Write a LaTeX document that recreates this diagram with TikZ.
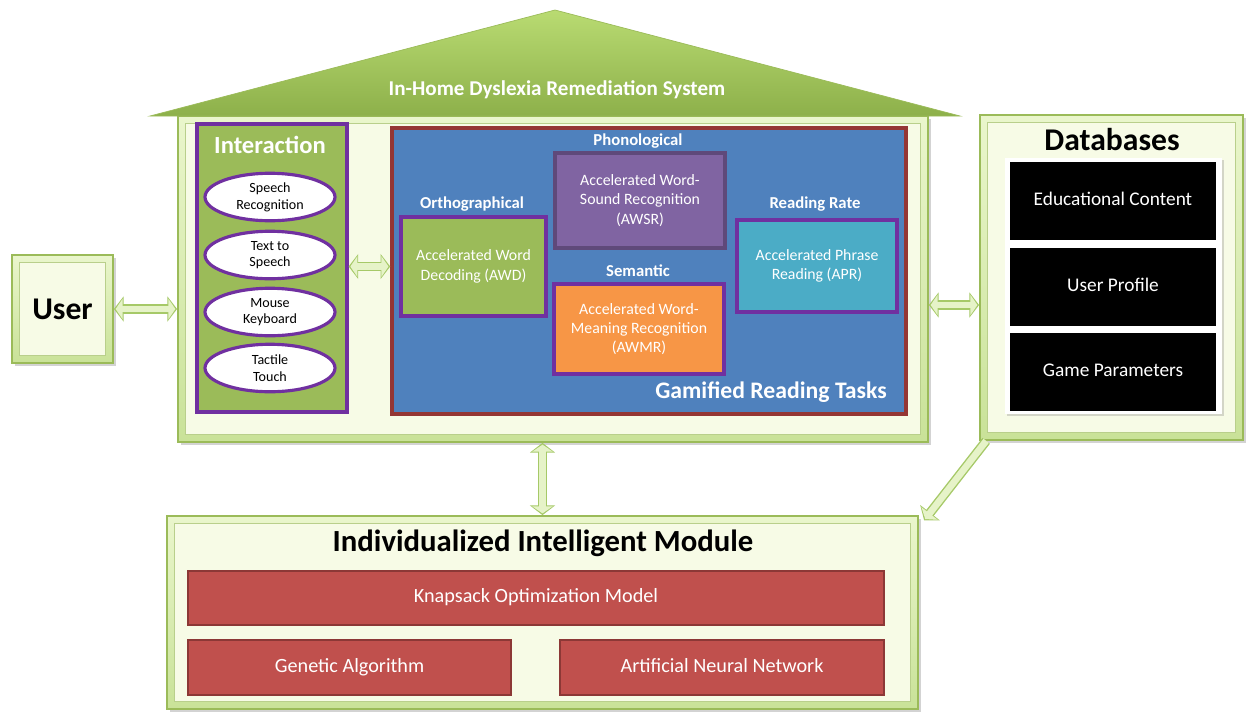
\documentclass[tikz,border=0pt]{standalone}
\usepackage{fontspec}
\setmainfont{Carlito}
\usetikzlibrary{fit,shapes.geometric,arrows.meta,shadows}

\definecolor{leaf}{HTML}{9BBB59}
\definecolor{roofdark}{HTML}{8DB04A}
\definecolor{rooflight}{HTML}{B9DB72}
\definecolor{paleleaf}{HTML}{F7FBE6}
\definecolor{bevelhi}{HTML}{EAF6CC}
\definecolor{bevello}{HTML}{C9E298}
\definecolor{intpurple}{HTML}{7030A0}
\definecolor{taskblue}{HTML}{4F81BD}
\definecolor{brick}{HTML}{943634}
\definecolor{lilac}{HTML}{8064A2}
\definecolor{lilacdark}{HTML}{5F497A}
\definecolor{amber}{HTML}{F79646}
\definecolor{aqua}{HTML}{4BACC6}
\definecolor{redbox}{HTML}{C0504D}
\definecolor{redline}{HTML}{8C3836}
\definecolor{arrowfill}{HTML}{E6F3C8}
\definecolor{arrowedge}{HTML}{A6C968}

\newcommand{\fsz}[2]{\fontsize{#1}{#2}\selectfont}

\tikzset{
  bevel/.style={draw=leaf, line width=1pt, top color=bevelhi, bottom color=bevello, inner sep=0pt,
    drop shadow={opacity=0.35, shadow xshift=1.5pt, shadow yshift=-1.5pt}},
  face/.style={draw=leaf!70, line width=0.5pt, fill=paleleaf, inner sep=-5pt},
  tile/.style={draw=intpurple, line width=1.8pt, inner sep=0pt},
  tiletext/.style={text=white, align=center, font=\fsz{9}{11}},
  oval/.style={ellipse, draw=intpurple, line width=1.8pt, fill=white, minimum width=2.6cm,
    minimum height=0.95cm, inner sep=0pt, align=center, font=\fsz{8}{9.5}},
  subcap/.style={text=white, font=\bfseries\fsz{9.5}{11}},
  dbtile/.style={fill=black, inner sep=0pt},
  dbtext/.style={text=white, font=\fsz{11}{13}, text height=1.6ex, text depth=0.45ex},
  redtile/.style={fill=redbox, draw=redline, line width=1.5pt, inner sep=0pt},
  redtext/.style={text=white, font=\fsz{11.5}{13}, text height=1.6ex, text depth=0.45ex},
  fatboth/.style={draw=arrowfill, line width=3.8pt, shorten <=1pt, shorten >=1pt,
    {Triangle[width=11.5pt,length=4pt]}-{Triangle[width=11.5pt,length=4pt]},
    preaction={draw=arrowedge, line width=5.4pt, shorten <=0pt, shorten >=0pt,
      {Triangle[width=14pt,length=5.5pt]}-{Triangle[width=14pt,length=5.5pt]}}},
  fatend/.style={draw=arrowfill, line width=3.8pt, shorten >=1pt,
    -{Triangle[width=11.5pt,length=4pt]},
    preaction={draw=arrowedge, line width=5.4pt, shorten >=0pt,
      -{Triangle[width=14pt,length=5.5pt]}}},
}

\begin{document}
\begin{tikzpicture}[x=0.02cm, y=-0.02cm]
\useasboundingbox (0,0) rectangle (1249,711);

% house
\node[bevel, fit={(178,116) (928,442)}] (house) {};
\node[face, fit=(house)] {};
\shade[top color=rooflight, bottom color=roofdark, draw=leaf] (150,116) -- (555,10) -- (960,116) -- cycle;
\node[text=white, font=\bfseries\fsz{12}{14}] (roofcap) at (557,90) {In-Home Dyslexia Remediation System};

% interaction
\node[fill=leaf, draw=intpurple, line width=1.8pt, inner sep=0pt, fit={(197,124) (347,412)}] (inter) {};
\node[text=white, font=\bfseries\fsz{14}{16}] at (270,145) {Interaction};
\node[oval] (speech) at (270,197) {Speech\\Recognition};
\node[oval] (tts) at (270,255) {Text to\\Speech};
\node[oval] (mouse) at (270,312) {Mouse\\Keyboard};
\node[oval] (touch) at (270,368) {Tactile\\Touch};

% reading tasks
\node[fill=taskblue, draw=brick, line width=2pt, inner sep=0pt, fit={(392,128) (906,414)}] (tasks) {};
\node[anchor=east, text=white, font=\bfseries\fsz{13.5}{16}] at (893,392) {Gamified Reading Tasks};
\node[subcap] at (472,204) {Orthographical};
\node[subcap] at (638,141) {Phonological};
\node[subcap] at (638,271) {Semantic};
\node[subcap] at (815,204) {Reading Rate};
\node[tile, fill=leaf, fit={(401,217) (546,316)},
  label={[tiletext]center:Accelerated Word\\Decoding (AWD)}] (awd) {};
\node[tile, fill=lilac, draw=lilacdark, fit={(555,153) (725,248)},
  label={[tiletext]center:Accelerated Word-\\Sound Recognition\\(AWSR)}] (awsr) {};
\node[tile, fill=amber, fit={(554,284) (724,374)},
  label={[tiletext]center:Accelerated Word-\\Meaning Recognition\\(AWMR)}] (awmr) {};
\node[tile, fill=aqua, fit={(737,220) (897,312)},
  label={[tiletext]center:Accelerated Phrase\\Reading (APR)}] (apr) {};

% user
\node[bevel, fit={(12,255) (113,363)}] (user) {};
\node[face, fit=(user), label={[font=\bfseries\fsz{18}{20}]center:User}] {};

% databases
\node[bevel, fit={(980,115) (1243,440)}] (db) {};
\node[face, fit=(db)] {};
\node[font=\bfseries\fsz{18}{20}] at (1112,140) {Databases};
\node[fill=white, inner sep=0pt, drop shadow={opacity=0.3, shadow xshift=1pt, shadow yshift=-1pt},
  fit={(1005,158) (1222,414)}] (dbpanel) {};
\node[dbtile, fit={(1010,162) (1216,240)}, label={[dbtext]center:Educational Content}] (educ) {};
\node[dbtile, fit={(1010,248) (1216,326)}, label={[dbtext]center:User Profile}] (profile) {};
\node[dbtile, fit={(1010,333) (1216,411)}, label={[dbtext]center:Game Parameters}] (params) {};

% intelligent module
\node[bevel, fit={(167,516) (918,709)}] (iim) {};
\node[face, fit=(iim)] {};
\node[font=\bfseries\fsz{17.5}{20}] at (543,543) {Individualized Intelligent Module};
\node[redtile, fit={(188,571) (884,625)}, label={[redtext]center:Knapsack Optimization Model}] (knap) {};
\node[redtile, fit={(188,640) (511,695)}, label={[redtext]center:Genetic Algorithm}] (ga) {};
\node[redtile, fit={(560,640) (884,695)}, label={[redtext]center:Artificial Neural Network}] (ann) {};

% links
\coordinate (dblink) at (950,305);
\draw[fatboth] (user.east) -- (user.east -| house.west);
\draw[fatboth] (inter.east |- awd) -- (tasks.west |- awd);
\draw[fatboth] (house.east |- dblink) -- (db.west |- dblink);
\draw[fatboth] (iim.north |- house.south) -- (iim.north);
\draw[fatend] ([xshift=4pt]db.south west) -- ([xshift=3pt,yshift=-3pt]iim.north east);
\end{tikzpicture}
\end{document}
